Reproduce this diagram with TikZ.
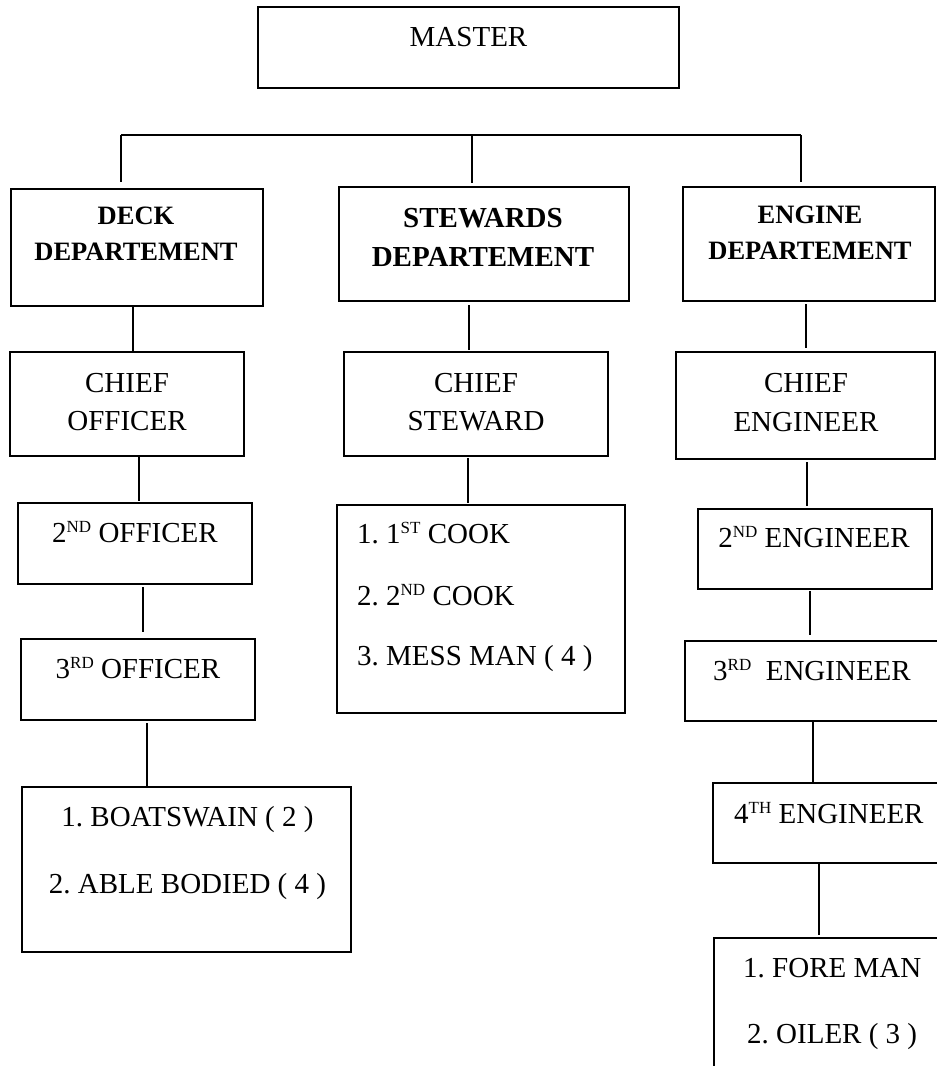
\documentclass[tikz,border=0pt]{standalone}
\usepackage{fontspec}
\setmainfont{Liberation Serif}
\newcommand\supx[1]{\raisebox{10pt}{\fontsize{17}{17}\selectfont #1}}
\begin{document}
\frenchspacing
\begin{tikzpicture}[x=1pt,y=-1pt,
  bx/.style={draw, line width=1.6pt, anchor=north west, inner sep=0pt, outer sep=0pt},
  conn/.style={line width=1.1pt},
  txt/.style={anchor=base, inner sep=0pt, font=\fontsize{29}{34}\selectfont},
  txtl/.style={txt, anchor=base west},
  dep/.style={anchor=base, inner sep=0pt, font=\fontsize{26.5}{32}\selectfont\bfseries},
  depbig/.style={anchor=base, inner sep=0pt, font=\fontsize{29}{34}\selectfont\bfseries}
  ]
\clip (0,0) rectangle (937,1066);
\fill[white] (0,0) rectangle (937,1066);

% boxes
\node[bx, minimum width=421pt, minimum height=81pt] (master) at (258,7) {};
\node[bx, minimum width=252pt, minimum height=117pt] (deck) at (11,189) {};
\node[bx, minimum width=290pt, minimum height=114pt] (stew) at (339,187) {};
\node[bx, minimum width=252pt, minimum height=114pt] (eng) at (683,187) {};
\node[bx, minimum width=234pt, minimum height=104pt] (co) at (10,352) {};
\node[bx, minimum width=264pt, minimum height=104pt] (cs) at (344,352) {};
\node[bx, minimum width=259pt, minimum height=107pt] (ce) at (676,352) {};
\node[bx, minimum width=234pt, minimum height=81pt] (o2) at (18,503) {};
\node[bx, minimum width=234pt, minimum height=81pt] (o3) at (21,639) {};
\node[bx, minimum width=288pt, minimum height=208pt] (cook) at (337,505) {};
\node[bx, minimum width=234pt, minimum height=80pt] (e2) at (698,509) {};
\node[bx, minimum width=260pt, minimum height=80pt] (e3) at (685,641) {};
\node[bx, minimum width=234pt, minimum height=80pt] (e4) at (713,783) {};
\node[bx, minimum width=236pt, minimum height=200pt] (fore) at (714,938) {};
\node[bx, minimum width=329pt, minimum height=165pt] (boat) at (22,787) {};

% texts
\node[txt] (tmaster) at (468.5,46) {MASTER};
\node[dep] (tdeck1) at (136,224) {DECK};
\node[dep] (tdeck2) at (136,260) {DEPARTEMENT};
\node[depbig] (tstew1) at (483,227) {STEWARDS};
\node[depbig] (tstew2) at (483,266) {DEPARTEMENT};
\node[dep] (teng1) at (810,223) {ENGINE};
\node[dep] (teng2) at (810,259) {DEPARTEMENT};
\node[txt] (tco1) at (127,392) {CHIEF};
\node[txt] (tco2) at (127,430) {OFFICER};
\node[txt] (tcs1) at (476,392) {CHIEF};
\node[txt] (tcs2) at (476,430) {STEWARD};
\node[txt] (tce1) at (806,392) {CHIEF};
\node[txt] (tce2) at (806,431) {ENGINEER};
\node[txt] (to2) at (135,542) {2\supx{ND} OFFICER};
\node[txt] (to3) at (138,678) {3\supx{RD} OFFICER};
\node[txtl] (tcook1) at (357,543) {1. 1\supx{ST} COOK};
\node[txtl] (tcook2) at (357,605) {2. 2\supx{ND} COOK};
\node[txtl] (tcook3) at (357,665) {3. MESS MAN ( 4 )};
\node[txt] (te2) at (814,547) {2\supx{ND} ENGINEER};
\node[txtl] (te3) at (713,680) {3\supx{RD}\ \ ENGINEER};
\node[txtl] (te4) at (734,823) {4\supx{TH} ENGINEER};
\node[txtl] (tfore1) at (743,977) {1. FORE MAN};
\node[txtl] (tfore2) at (747,1043) {2. OILER ( 3 )};
\node[txt] (tboat1) at (187.5,826) {1. BOATSWAIN ( 2 )};
\node[txt] (tboat2) at (187.5,893) {2. ABLE BODIED ( 4 )};

% bus
\coordinate (busL) at (121,135);
\coordinate (busM) at (472,136);
\coordinate (busR) at (801,135);
\draw[conn] (busL) -- (busR);
\draw[conn, shorten >=7pt] (busL) -- (busL |- deck.north);
\draw[conn, shorten >=4pt] (busM) -- (busM |- stew.north);
\draw[conn, shorten >=5pt] (busR) -- (busR |- eng.north);

% vertical connectors
\draw[conn] (133,0 |- deck.south) -- (133,0 |- co.north);
\draw[conn, shorten <=4pt, shorten >=2pt] (469,0 |- stew.south) -- (469,0 |- cs.north);
\draw[conn, shorten <=3pt, shorten >=4pt] (806,0 |- eng.south) -- (806,0 |- ce.north);
\draw[conn, shorten >=2pt] (139,0 |- co.south) -- (139,0 |- o2.north);
\draw[conn, shorten <=2pt, shorten >=2pt] (468,0 |- cs.south) -- (468,0 |- cook.north);
\draw[conn, shorten <=3pt, shorten >=3pt] (807,0 |- ce.south) -- (807,0 |- e2.north);
\draw[conn, shorten <=3pt, shorten >=7pt] (143,0 |- o2.south) -- (143,0 |- o3.north);
\draw[conn, shorten <=2pt, shorten >=6pt] (810,0 |- e2.south) -- (810,0 |- e3.north);
\draw[conn, shorten <=3pt] (147,0 |- o3.south) -- (147,0 |- boat.north);
\draw[conn] (813,0 |- e3.south) -- (813,0 |- e4.north);
\draw[conn, shorten >=3pt] (819,0 |- e4.south) -- (819,0 |- fore.north);
\end{tikzpicture}
\end{document}
